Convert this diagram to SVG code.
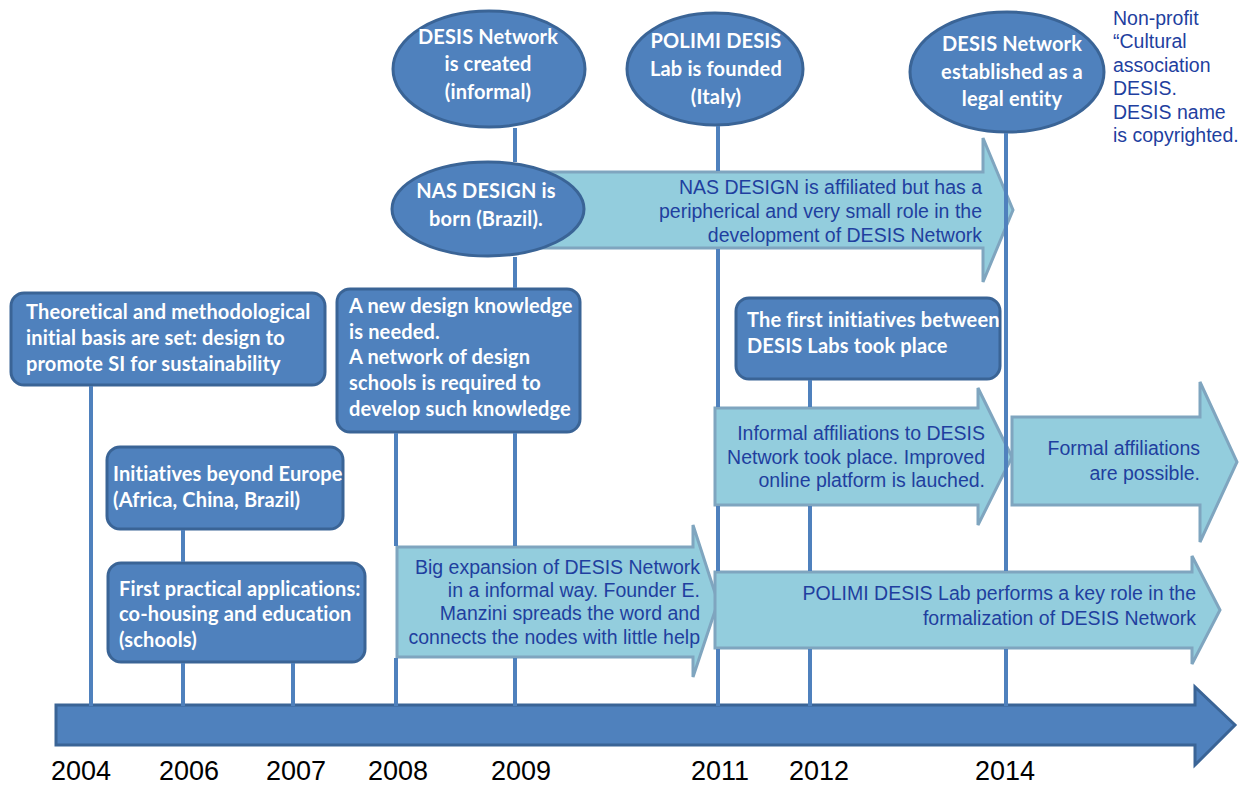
<svg xmlns="http://www.w3.org/2000/svg" width="1245" height="787" viewBox="0 0 1245 787">
<style>
.node{fill:#4F81BD;stroke:#3A6496;stroke-width:3}
.larrow{fill:#93CDDD;stroke:#7FA5BF;stroke-width:3;stroke-linejoin:miter}
.wt{font-family:Lato,"Open Sans","Liberation Sans",sans-serif;font-weight:bold;font-size:20px;letter-spacing:0.15px;fill:#FFFFFF}
.bt{font-family:"Liberation Sans",Arial,sans-serif;font-size:19.5px;fill:#1F3F9F}
.yr{font-family:"Liberation Sans",Arial,sans-serif;font-size:27px;fill:#000000;text-anchor:middle}
.ln{stroke:#4F81BD;stroke-width:4;fill:none}
</style>
<rect width="1245" height="787" fill="#FFFFFF"/>

<g id="timeline">
<path class="node" d="M56,705 L1195,705 L1195,687 L1235,725 L1195,765 L1195,745 L56,745 Z"/>
<text class="yr" x="81" y="780">2004</text>
<text class="yr" x="189" y="780">2006</text>
<text class="yr" x="296" y="780">2007</text>
<text class="yr" x="398" y="780">2008</text>
<text class="yr" x="521" y="780">2009</text>
<text class="yr" x="720" y="780">2011</text>
<text class="yr" x="819" y="780">2012</text>
<text class="yr" x="1005" y="780">2014</text>
</g>

<g id="arrow-nas">
<path class="larrow" d="M540,172 L983,172 L983,138 L1013,210 L983,282 L983,248 L540,248 Z"/>
<text class="bt" text-anchor="end"><tspan x="982" y="194">NAS DESIGN is affiliated but has a</tspan><tspan x="982" y="218">peripherical and very small role in the</tspan><tspan x="982" y="242">development of DESIS Network</tspan></text>
</g>

<g id="node-desis-created">
<ellipse class="node" cx="489" cy="69" rx="96" ry="58"/>
<text class="wt" text-anchor="middle"><tspan x="488" y="44">DESIS Network</tspan><tspan x="488" y="71">is created</tspan><tspan x="488" y="99">(informal)</tspan></text>
</g>

<g id="node-polimi">
<ellipse class="node" cx="715" cy="69" rx="88" ry="56"/>
<text class="wt" text-anchor="middle"><tspan x="716" y="48">POLIMI DESIS</tspan><tspan x="716" y="76">Lab is founded</tspan><tspan x="716" y="104">(Italy)</tspan></text>
</g>

<g id="node-nas">
<ellipse class="node" cx="488" cy="209" rx="96" ry="47"/>
<text class="wt" text-anchor="middle"><tspan x="486" y="198">NAS DESIGN is</tspan><tspan x="486" y="226">born (Brazil).</tspan></text>
</g>

<g id="node-legal">
<ellipse class="node" cx="1007" cy="72" rx="97" ry="60"/>
<text class="wt" text-anchor="middle"><tspan x="1012" y="51">DESIS Network</tspan><tspan x="1012" y="79">established as a</tspan><tspan x="1012" y="106">legal entity</tspan></text>
</g>

<g id="note-nonprofit">
<text class="bt"><tspan x="1113" y="25">Non-profit</tspan><tspan x="1113" y="48">“Cultural</tspan><tspan x="1113" y="72">association</tspan><tspan x="1113" y="95">DESIS.</tspan><tspan x="1113" y="119">DESIS name</tspan><tspan x="1113" y="142">is copyrighted.</tspan></text>
</g>

<g id="node-theoretical">
<rect class="node" x="11" y="293" width="314" height="92" rx="13"/>
<text class="wt"><tspan x="26" y="319">Theoretical and methodological</tspan><tspan x="26" y="345">initial basis are set: design to</tspan><tspan x="26" y="371">promote SI for sustainability</tspan></text>
</g>

<g id="node-new-knowledge">
<rect class="node" x="337" y="289" width="243" height="143" rx="13"/>
<text class="wt"><tspan x="349" y="313">A new design knowledge</tspan><tspan x="349" y="339">is needed.</tspan><tspan x="349" y="364">A network of  design</tspan><tspan x="349" y="390">schools is required to</tspan><tspan x="349" y="416">develop such knowledge</tspan></text>
</g>

<g id="node-beyond-europe">
<rect class="node" x="107" y="447" width="236" height="82" rx="13"/>
<text class="wt"><tspan x="113" y="481">Initiatives beyond Europe</tspan><tspan x="113" y="507">(Africa, China, Brazil)</tspan></text>
</g>

<g id="node-first-practical">
<rect class="node" x="108" y="563" width="257" height="99" rx="13"/>
<text class="wt"><tspan x="119" y="596">First practical applications:</tspan><tspan x="119" y="621">co-housing and education</tspan><tspan x="119" y="647">(schools)</tspan></text>
</g>

<g id="node-first-initiatives">
<rect class="node" x="736" y="298" width="264" height="81" rx="13"/>
<text class="wt"><tspan x="747" y="327">The first initiatives between</tspan><tspan x="747" y="353">DESIS Labs took place</tspan></text>
</g>

<g id="arrow-informal">
<path class="larrow" d="M715,408 L978,408 L978,388 L1012,457 L978,525 L978,505 L715,505 Z"/>
<text class="bt" text-anchor="end"><tspan x="985" y="440">Informal affiliations to DESIS</tspan><tspan x="985" y="464">Network took place. Improved</tspan><tspan x="985" y="487">online platform is lauched.</tspan></text>
</g>

<g id="arrow-formal">
<path class="larrow" d="M1012,417 L1200,417 L1200,382 L1237,462 L1200,542 L1200,505 L1012,505 Z"/>
<text class="bt" text-anchor="end"><tspan x="1200" y="455">Formal affiliations</tspan><tspan x="1200" y="480">are possible.</tspan></text>
</g>

<g id="arrow-expansion">
<path class="larrow" d="M397,547 L693,547 L693,525 L718,602 L693,677 L693,657 L397,657 Z"/>
<text class="bt" text-anchor="end"><tspan x="700" y="574">Big expansion of DESIS Network</tspan><tspan x="700" y="597">in a informal way. Founder E.</tspan><tspan x="700" y="620">Manzini spreads the word and</tspan><tspan x="700" y="644">connects the nodes with little help</tspan></text>
</g>

<g id="arrow-polimi-role">
<path class="larrow" d="M715,572 L1192,572 L1192,556 L1220,610 L1192,664 L1192,648 L715,648 Z"/>
<text class="bt" text-anchor="end"><tspan x="1196" y="600">POLIMI DESIS Lab performs a key role in the</tspan><tspan x="1196" y="625">formalization of DESIS Network</tspan></text>
</g>

<g id="connectors">
<line class="ln" x1="91" y1="386" x2="91" y2="706"/>
<line class="ln" x1="183" y1="530" x2="183" y2="562"/>
<line class="ln" x1="183" y1="663" x2="183" y2="706"/>
<line class="ln" x1="293" y1="663" x2="293" y2="706"/>
<line class="ln" x1="396" y1="433" x2="396" y2="546"/>
<line class="ln" x1="396" y1="658" x2="396" y2="706"/>
<line class="ln" x1="515" y1="128" x2="515" y2="162"/>
<line class="ln" x1="515" y1="257" x2="515" y2="288"/>
<line class="ln" x1="515" y1="433" x2="515" y2="546"/>
<line class="ln" x1="515" y1="658" x2="515" y2="706"/>
<line class="ln" x1="718" y1="126" x2="718" y2="171"/>
<line class="ln" x1="718" y1="249" x2="718" y2="407"/>
<line class="ln" x1="718" y1="506" x2="718" y2="571"/>
<line class="ln" x1="718" y1="649" x2="718" y2="706"/>
<line class="ln" x1="810" y1="380" x2="810" y2="407"/>
<line class="ln" x1="810" y1="506" x2="810" y2="571"/>
<line class="ln" x1="810" y1="649" x2="810" y2="706"/>
<line class="ln" x1="1006" y1="133" x2="1006" y2="571"/>
<line class="ln" x1="1006" y1="649" x2="1006" y2="706"/>
</g>
</svg>
